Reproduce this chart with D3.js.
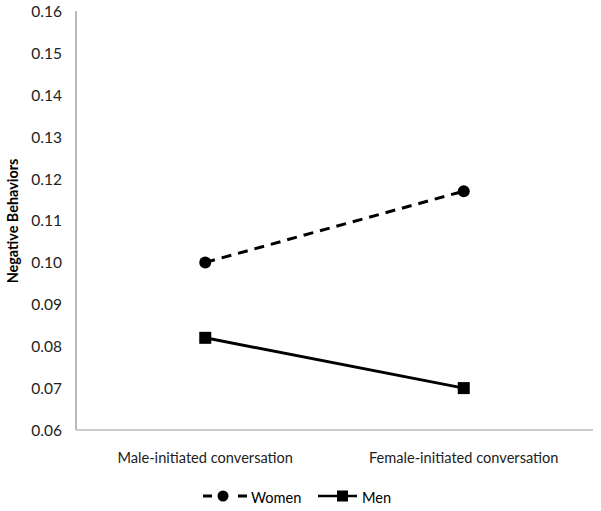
<!DOCTYPE html>
<html>
<head>
<meta charset="utf-8">
<script src="https://cdn.jsdelivr.net/npm/d3@7"></script>
<style>
  body { margin: 0; background: #fff; }
  text { font-family: Lato, "Open Sans", "Liberation Sans", sans-serif; }
</style>
</head>
<body>
<script>
// data
const categories = ["Male-initiated conversation", "Female-initiated conversation"];
const women = [0.100, 0.117];
const men = [0.082, 0.070];
const yTicks = [0.06, 0.07, 0.08, 0.09, 0.10, 0.11, 0.12, 0.13, 0.14, 0.15, 0.16];

const width = 601, height = 511;
const svg = d3.select("body").append("svg")
  .attr("width", width).attr("height", height);

const x = d3.scaleBand().domain(categories).range([76, 593]);
const y = d3.scaleLinear().domain([0.06, 0.16]).range([430, 11]);

// axes
svg.append("line")
  .attr("x1", 76).attr("x2", 76).attr("y1", y(0.16)).attr("y2", y(0.06))
  .attr("stroke", "#8c8c8c").attr("stroke-width", 1.2);
svg.append("line")
  .attr("x1", 76).attr("x2", 593).attr("y1", y(0.06)).attr("y2", y(0.06))
  .attr("stroke", "#bdbdbd").attr("stroke-width", 1.5);

svg.selectAll(".ytick").data(yTicks).enter().append("text")
  .attr("x", 62).attr("y", d => y(d) + 2)
  .attr("text-anchor", "end").attr("dominant-baseline", "middle")
  .attr("font-size", 15.5).attr("fill", "#222")
  .text(d => d.toFixed(2));

svg.selectAll(".xtick").data(categories).enter().append("text")
  .attr("x", d => x(d) + x.bandwidth() / 2).attr("y", 463)
  .attr("text-anchor", "middle").attr("font-size", 14.6).attr("fill", "#222")
  .text(d => d);

svg.append("text")
  .attr("transform", "translate(18,221) rotate(-90)")
  .attr("text-anchor", "middle").attr("font-size", 14.4).attr("font-weight", "bold")
  .text("Negative Behaviors");

const line = d3.line()
  .x((d, i) => x(categories[i]) + x.bandwidth() / 2)
  .y(d => y(d));

// women: dashed with circles
svg.append("path").datum(women).attr("d", line)
  .attr("fill", "none").attr("stroke", "#000").attr("stroke-width", 3)
  .attr("stroke-dasharray", "10,7");
svg.selectAll(".wpt").data(women).enter().append("circle")
  .attr("cx", (d, i) => x(categories[i]) + x.bandwidth() / 2)
  .attr("cy", d => y(d)).attr("r", 6).attr("fill", "#000");

// men: solid with squares
svg.append("path").datum(men).attr("d", line)
  .attr("fill", "none").attr("stroke", "#000").attr("stroke-width", 3);
svg.selectAll(".mpt").data(men).enter().append("rect")
  .attr("x", (d, i) => x(categories[i]) + x.bandwidth() / 2 - 6)
  .attr("y", d => y(d) - 6).attr("width", 12).attr("height", 12).attr("fill", "#000");

// legend
const ly = 496;
const lg = svg.append("g");
lg.append("line").attr("x1", 203).attr("x2", 247).attr("y1", ly).attr("y2", ly)
  .attr("stroke", "#000").attr("stroke-width", 3).attr("stroke-dasharray", "9,26");
lg.append("circle").attr("cx", 223).attr("cy", ly).attr("r", 5.5).attr("fill", "#000");
lg.append("text").attr("x", 251).attr("y", 503).attr("font-size", 14.6).text("Women");
lg.append("line").attr("x1", 318).attr("x2", 357).attr("y1", ly).attr("y2", ly)
  .attr("stroke", "#000").attr("stroke-width", 2.5);
lg.append("rect").attr("x", 337).attr("y", ly - 5.5).attr("width", 11).attr("height", 11).attr("fill", "#000");
lg.append("text").attr("x", 362).attr("y", 503).attr("font-size", 14.6).text("Men");
</script>
</body>
</html>
